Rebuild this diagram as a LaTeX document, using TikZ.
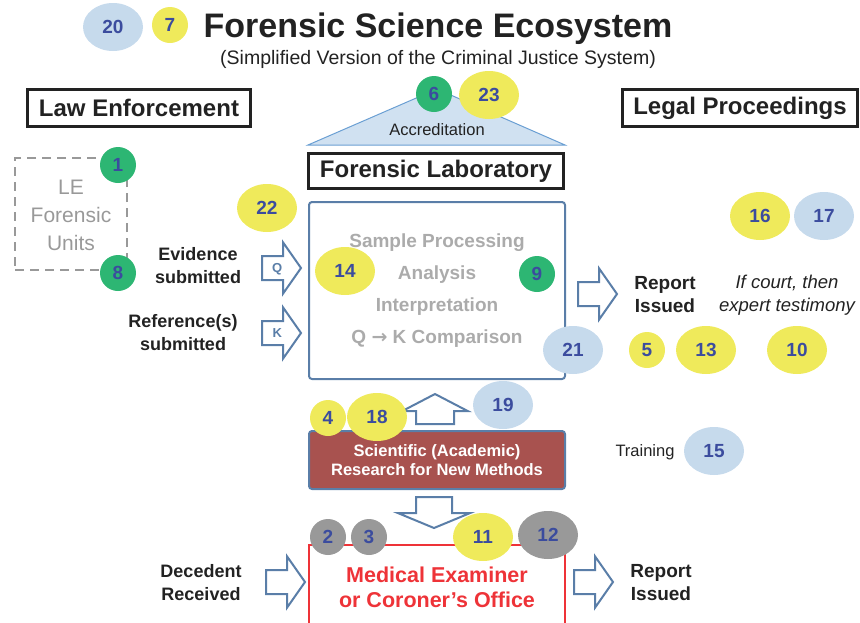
\documentclass[tikz,border=0pt]{standalone}
\usepackage{fontspec}
\setmainfont{Liberation Sans}
\newfontfamily\arrowfont{DejaVu Sans}
\usetikzlibrary{shapes.geometric,shapes.arrows}
\definecolor{badgeyellow}{HTML}{EFEA5B}
\definecolor{badgeblue}{HTML}{C6DAEC}
\definecolor{badgegreen}{HTML}{2DB673}
\definecolor{badgegray}{HTML}{999999}
\definecolor{numblue}{HTML}{3B4C9E}
\definecolor{steel}{HTML}{5A7EA8}
\definecolor{labgray}{HTML}{ABABAB}
\definecolor{researchred}{HTML}{A8524F}
\definecolor{mered}{HTML}{EE3338}
\definecolor{accfill}{HTML}{D0E1F1}
\definecolor{accline}{HTML}{6A9FD3}
\definecolor{ink}{HTML}{222222}
\newcommand{\fsz}[2]{\fontsize{#1}{#2}\selectfont}

\begin{document}
\begin{tikzpicture}[x=1pt,y=-1pt]
			\tikzstyle{badge}=[ellipse, minimum width=60pt, minimum height=48pt, inner sep=0pt, text=numblue, font=\fsz{19}{21}\bfseries]
			\tikzstyle{smallbadge}=[circle, minimum size=36pt, inner sep=0pt, text=numblue, font=\fsz{19}{21}\bfseries]
			\tikzstyle{headbox}=[draw=ink, line width=3pt, inner sep=0pt, text=ink, font=\fsz{24}{26}\bfseries]
			\tikzstyle{blockarrow}=[single arrow, draw=steel, fill=white, line width=2pt, anchor=tail,
				inner xsep=2pt, inner ysep=6.5pt, text height=9pt, text depth=0pt,
				single arrow head extend=13.5pt, single arrow tip angle=110, minimum height=39pt,
				text=steel, font=\fsz{13}{13}\bfseries]
			\tikzstyle{label}=[align=center, text=ink, font=\fsz{18}{23}\bfseries]
			
			\useasboundingbox (0,0) rectangle (860,622);
			\clip (0,0) rectangle (860,622);
			
			% titles
			\node[text=ink, font=\fsz{34}{36}\bfseries] (title) at (438,29) {Forensic Science Ecosystem};
			\node[text=ink, font=\fsz{19.5}{21}] (subtitle) at (438,59) {(Simplified Version of the Criminal Justice System)};
			\node[headbox, minimum width=223pt, minimum height=37pt] (law) at (139,108) {Law Enforcement};
			\node[headbox, minimum width=235pt, minimum height=37pt] (legal) at (740,108) {Legal Proceedings};
			
			% accreditation roof
			\coordinate (roofl) at (308,145);
			\coordinate (roofr) at (565,145);
			\coordinate (roofc) at (437,89);
			\draw[accline, fill=accfill, line width=1pt] (roofl) -- (roofc) -- (roofr) -- cycle;
			\node[text=ink, font=\fsz{16.5}{18}] (acc) at (437,130) {Accreditation};
			\node[headbox, minimum width=255pt, minimum height=35pt] (lab) at (436,171) {Forensic Laboratory};
			
			% boxes
			\node[draw=badgegray, line width=2.5pt, dash pattern=on 9pt off 6pt, minimum size=112pt] (lebox) at (71,214) {};
			\node[align=center, text=badgegray, font=\fsz{21}{28}] (le) at (71,215) {LE\\Forensic\\Units};
			\node[draw=steel, line width=2pt, rounded corners=3pt, minimum width=256pt, minimum height=177pt] (labbox) at (437,290.5) {};
			\node[align=center, text=labgray, font=\fsz{19}{32}\bfseries] (steps) at (437,291)
				{Sample Processing\\Analysis\\Interpretation\\Q {\arrowfont\bfseries →} K Comparison};
			\node[draw=steel, fill=researchred, line width=2pt, rounded corners=3pt, minimum width=256pt, minimum height=58pt,
				align=center, text=white, font=\fsz{16.5}{19}\bfseries] (research) at (437,460)
				{Scientific (Academic)\\Research for New Methods};
			\node[draw=mered, line width=2pt, minimum width=256pt, minimum height=110pt] (mebox) at (437,600) {};
			\node[align=center, text=mered, font=\fsz{21.5}{25}\bfseries] (me) at (437,587) {Medical Examiner\\or Coroner’s Office};
			
			% labels
			\node[label] (evidence) at (198,266) {Evidence\\submitted};
			\node[label] (reference) at (183,333) {Reference(s)\\submitted};
			\node[label, font=\fsz{19}{23}\bfseries] (report) at (665,295) {Report\\Issued};
			\node[label, font=\fsz{18.5}{23}\itshape] (court) at (787,295) {If court, then\\expert testimony};
			\node[text=ink, font=\fsz{16.5}{18}] (training) at (645,452) {Training};
			\node[label] (decedent) at (201,583) {Decedent\\Received};
			\node[label, font=\fsz{19}{23}\bfseries] (report2) at (661,583) {Report\\Issued};
			
			% block arrows
			\node[blockarrow] (qarrow) at (261,268) {Q};
			\node[blockarrow] (karrow) at (261,333) {K};
			\node[blockarrow] (outarrow) at (577,294) {};
			\node[blockarrow] (inarrow) at (265,582) {};
			\node[blockarrow] (out2arrow) at (573,582) {};
			\node[blockarrow, rotate=90, minimum height=30pt, inner ysep=13.5pt, single arrow head extend=14pt, single arrow tip angle=125] (uparrow) at (435,425) {};
			\node[blockarrow, rotate=-90, minimum height=31pt, inner ysep=12.5pt, single arrow head extend=18pt, single arrow tip angle=135] (downarrow) at (434,496) {};
			
			% numbered badges
			\node[badge, fill=badgeblue] (b20) at (113,27) {20};
			\node[smallbadge, fill=badgeyellow] (b7) at (170,25) {7};
			\node[smallbadge, fill=badgegreen] (b6) at (434,94) {6};
			\node[badge, fill=badgeyellow] (b23) at (489,95) {23};
			\node[smallbadge, fill=badgegreen] (b1) at (118,165) {1};
			\node[smallbadge, fill=badgegreen] (b8) at (118,273) {8};
			\node[badge, fill=badgeyellow] (b22) at (267,208) {22};
			\node[badge, fill=badgeyellow] (b14) at (345,271) {14};
			\node[smallbadge, fill=badgegreen] (b9) at (537,274) {9};
			\node[badge, fill=badgeblue] (b21) at (573,350) {21};
			\node[badge, fill=badgeyellow] (b16) at (760,216) {16};
			\node[badge, fill=badgeblue] (b17) at (824,216) {17};
			\node[smallbadge, fill=badgeyellow] (b5) at (647,350) {5};
			\node[badge, fill=badgeyellow] (b13) at (706,350) {13};
			\node[badge, fill=badgeyellow] (b10) at (797,350) {10};
			\node[smallbadge, fill=badgeyellow] (b4) at (328,418) {4};
			\node[badge, fill=badgeyellow] (b18) at (377,417) {18};
			\node[badge, fill=badgeblue] (b19) at (503,405) {19};
			\node[badge, fill=badgeblue] (b15) at (714,451) {15};
			\node[smallbadge, fill=badgegray] (b2) at (328,537) {2};
			\node[smallbadge, fill=badgegray] (b3) at (369,537) {3};
			\node[badge, fill=badgeyellow] (b11) at (483,537) {11};
			\node[badge, fill=badgegray] (b12) at (548,535) {12};
		\end{tikzpicture}
\end{document}
